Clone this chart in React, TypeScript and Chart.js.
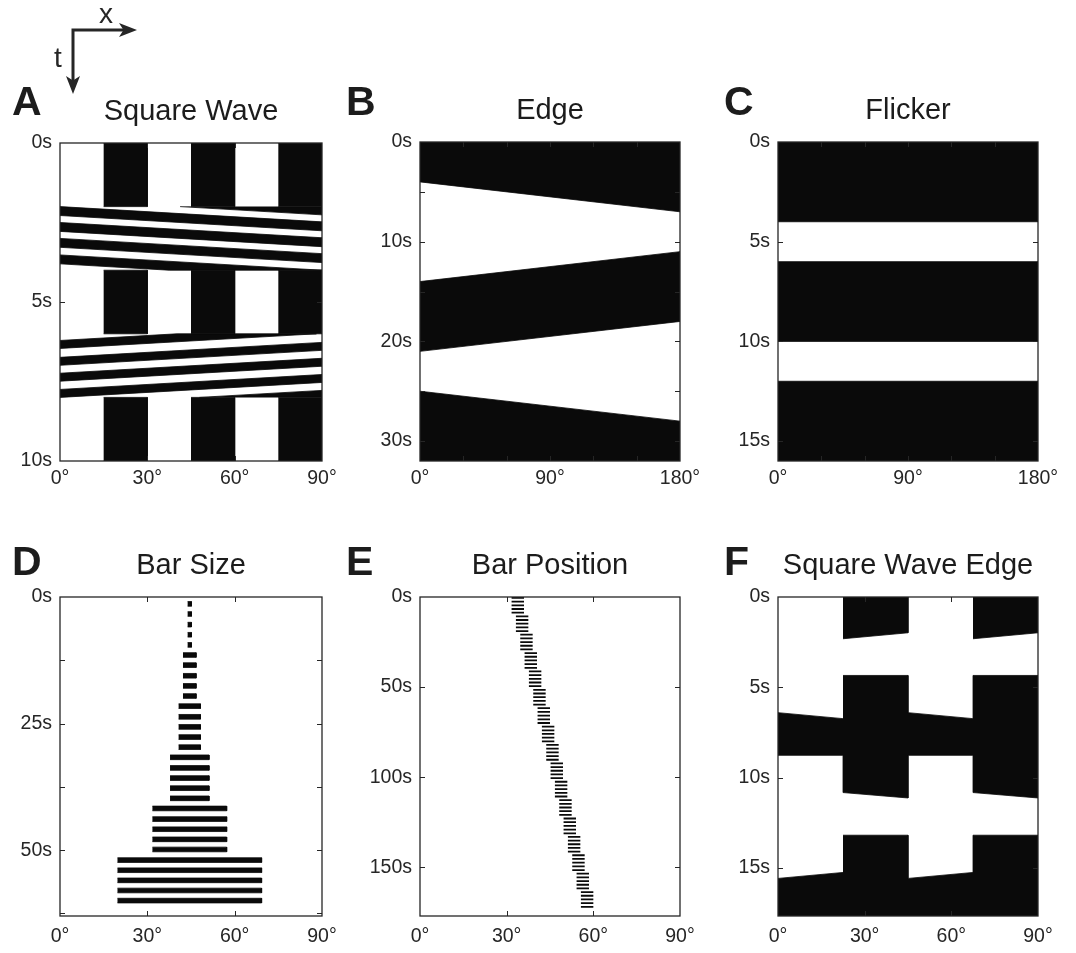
import React, { useEffect, useRef } from 'react';
import { Chart, registerables } from 'chart.js';
Chart.register(...registerables);

const FONT = '"Liberation Sans", Arial, Helvetica, sans-serif';
const INK = '#262626';
const FILL = '#0a0a0a';

// ---------- Panel A : Square Wave (x in deg, t in s) ----------
const A_T_MAX = 10;
const A_BLACK_COLUMNS = [[15, 30], [45, 60], [75, 90]];
const A_STATIC_SPANS = [[0, 2], [4, 6], [8, 10]];
const A_MOVE1_SPAN = [2, 4];
const A_MOVE1_STRIPE_TOPS = [1.5, 2.0, 2.5, 3.0, 3.52];
const A_MOVE1_STRIPE_LEN = 0.28;
const A_MOVE1_DRIFT = 0.48;
const A_MOVE2_SPAN = [6, 8];
const A_MOVE2_STRIPE_TOPS = [6.21, 6.74, 7.24, 7.75, 8.25];
const A_MOVE2_STRIPE_LEN = 0.25;
const A_MOVE2_DRIFT = -0.47;

// ---------- Panel B : Edge ----------
const B_T_MAX = 32;
const B_EDGE_AT_0 = [4, 14, 21, 25];
const B_EDGE_AT_180 = [7, 11, 18, 28];

// ---------- Panel C : Flicker ----------
const C_T_MAX = 16;
const C_DARK_SPANS = [[0, 4], [6, 10], [12, 16]];

// ---------- Panel D : Bar Size ----------
const D_T_MAX = 63;
const D_CENTER = 44.5;
const D_GROUP_WIDTH = [1.3, 4.5, 7.5, 13.4, 25.5, 49.5];
const D_BAR_START = [
  0.9, 2.9, 5.0, 7.0, 9.0,
  11.0, 13.0, 15.1, 17.1, 19.1,
  21.1, 23.2, 25.2, 27.2, 29.2,
  31.2, 33.3, 35.3, 37.3, 39.3,
  41.3, 43.4, 45.4, 47.4, 49.4,
  51.5, 53.5, 55.5, 57.5, 59.5,
];
const D_BAR_LEN = 0.92;

// ---------- Panel E : Bar Position ----------
const E_T_MAX = 177;
const E_GROUP_X = [31.7, 33.2, 34.7, 36.2, 37.7, 39.2, 40.7, 42.2, 43.7, 45.2, 46.7, 48.2, 49.7, 51.2, 52.7, 54.2, 55.7];
const E_GROUP_T = [0, 10.2, 20.4, 30.6, 40.8, 51.0, 61.2, 71.4, 81.6, 91.8, 102.0, 112.2, 122.4, 132.6, 142.8, 153.0, 163.2];
const E_FLASH_OFFSETS = [0, 2.05, 4.1, 6.15, 8.2];
const E_FLASH_LEN = 1.0;
const E_BAR_WIDTH = 4.3;

// ---------- Panel F : Square Wave Edge ----------
const F_T_MAX = 17.65;
const F_SHAPES = [
  [[22.5, 0], [45, 0], [45, 1.98], [22.5, 2.31]],
  [[67.5, 0], [90, 0], [90, 1.98], [67.5, 2.31]],
  [[22.5, 4.34], [45, 4.34], [45, 6.4], [67.5, 6.73], [67.5, 4.34], [90, 4.34], [90, 11.12], [67.5, 10.82],
   [67.5, 8.76], [45, 8.76], [45, 11.12], [22.5, 10.82], [22.5, 8.76], [0, 8.76], [0, 6.4], [22.5, 6.73]],
  [[22.5, 13.18], [45, 13.18], [45, 15.57], [67.5, 15.24], [67.5, 13.18], [90, 13.18], [90, 17.65], [0, 17.65],
   [0, 15.57], [22.5, 15.24]],
];

type Pt = { x: number; y: number };

const rect = (x0: number, x1: number, y0: number, y1: number): Pt[] => [
  { x: x0, y: y0 }, { x: x1, y: y0 }, { x: x1, y: y1 }, { x: x0, y: y1 },
];

function clipBand(poly: Pt[], lo: number, hi: number): Pt[] {
  const cut = (a: Pt, b: Pt, yv: number): Pt => {
    const k = (yv - a.y) / (b.y - a.y);
    return { x: a.x + k * (b.x - a.x), y: yv };
  };
  const clip = (pts: Pt[], inside: (p: Pt) => boolean, yv: number) => {
    const out: Pt[] = [];
    for (let i = 0; i < pts.length; i++) {
      const cur = pts[i];
      const prev = pts[(i + pts.length - 1) % pts.length];
      const ci = inside(cur);
      const pi = inside(prev);
      if (ci) {
        if (!pi) out.push(cut(prev, cur, yv));
        out.push(cur);
      } else if (pi) out.push(cut(prev, cur, yv));
    }
    return out;
  };
  let r = clip(poly, (p) => p.y >= lo, lo);
  if (r.length) r = clip(r, (p) => p.y <= hi, hi);
  return r;
}

function stripes(tops: number[], len: number, drift: number, span: number[]): Pt[][] {
  return tops
    .map((top) =>
      clipBand(
        [{ x: 0, y: top }, { x: 90, y: top + drift }, { x: 90, y: top + drift + len }, { x: 0, y: top + len }],
        span[0], span[1]))
    .filter((p) => p.length >= 3);
}

function polysA(): Pt[][] {
  const out: Pt[][] = [];
  for (const [t0, t1] of A_STATIC_SPANS) for (const [x0, x1] of A_BLACK_COLUMNS) out.push(rect(x0, x1, t0, t1));
  out.push(...stripes(A_MOVE1_STRIPE_TOPS, A_MOVE1_STRIPE_LEN, A_MOVE1_DRIFT, A_MOVE1_SPAN));
  out.push(...stripes(A_MOVE2_STRIPE_TOPS, A_MOVE2_STRIPE_LEN, A_MOVE2_DRIFT, A_MOVE2_SPAN));
  return out;
}
function polysB(): Pt[][] {
  const L = B_EDGE_AT_0, R = B_EDGE_AT_180;
  return [
    [{ x: 0, y: 0 }, { x: 180, y: 0 }, { x: 180, y: R[0] }, { x: 0, y: L[0] }],
    [{ x: 0, y: L[1] }, { x: 180, y: R[1] }, { x: 180, y: R[2] }, { x: 0, y: L[2] }],
    [{ x: 0, y: L[3] }, { x: 180, y: R[3] }, { x: 180, y: B_T_MAX }, { x: 0, y: B_T_MAX }],
  ];
}
function polysC(): Pt[][] {
  return C_DARK_SPANS.map(([t0, t1]) => rect(0, 180, t0, t1));
}
function polysD(): Pt[][] {
  return D_BAR_START.map((s, i) => {
    const w = D_GROUP_WIDTH[Math.floor(i / 5)];
    return rect(D_CENTER - w / 2, D_CENTER + w / 2, s, s + D_BAR_LEN);
  });
}
function polysE(): Pt[][] {
  const out: Pt[][] = [];
  E_GROUP_X.forEach((x0, g) => {
    for (const off of E_FLASH_OFFSETS) {
      const t0 = E_GROUP_T[g] + off;
      out.push(rect(x0, x0 + E_BAR_WIDTH, t0, t0 + E_FLASH_LEN));
    }
  });
  return out;
}
function polysF(): Pt[][] {
  return F_SHAPES.map((s) => s.map(([x, y]) => ({ x, y })));
}

const PAD_L = 70, PAD_T = 70, PAD_R = 35, PAD_B = 45, Y_AXIS_W = 60;

const decoPlugin = {
  id: 'panelDeco',
  afterDatasetsDraw(chart: any, _args: any, opts: any) {
    const { ctx, chartArea: a, scales } = chart;
    const xs = scales.x, ys = scales.y;
    const L = 5;
    ctx.save();
    ctx.strokeStyle = INK;
    ctx.lineWidth = 1;
    ctx.beginPath();
    for (const tk of xs.ticks) {
      if (tk.value <= xs.min || tk.value >= xs.max) continue;
      const px = Math.round(xs.getPixelForValue(tk.value)) + 0.5;
      ctx.moveTo(px, a.bottom); ctx.lineTo(px, a.bottom - L);
      ctx.moveTo(px, a.top); ctx.lineTo(px, a.top + L);
    }
    for (const tk of ys.ticks) {
      if (tk.value <= ys.min || tk.value >= ys.max) continue;
      const py = Math.round(ys.getPixelForValue(tk.value)) + 0.5;
      ctx.moveTo(a.left, py); ctx.lineTo(a.left + L, py);
      ctx.moveTo(a.right, py); ctx.lineTo(a.right - L, py);
    }
    ctx.stroke();
    ctx.lineWidth = 1.3;
    ctx.strokeRect(a.left, a.top, a.right - a.left, a.bottom - a.top);
    ctx.fillStyle = '#1c1c1c';
    ctx.font = `29px ${FONT}`;
    ctx.textAlign = 'center';
    ctx.textBaseline = 'alphabetic';
    ctx.fillText(opts.title, (a.left + a.right) / 2, a.top - 23);
    ctx.restore();
  },
};

type PanelCfg = {
  title: string;
  l: number; t: number; w: number; h: number;
  xMax: number; xStep: number; xLabelEvery: number;
  yMax: number; yStep: number; yLabelEvery: number;
  xPad: number;
  polys: Pt[][];
  stroke: boolean;
};

function Panel({ cfg }: { cfg: PanelCfg }) {
  const ref = useRef<HTMLCanvasElement>(null);
  const W = cfg.w + PAD_L + PAD_R;
  const H = cfg.h + PAD_T + PAD_B;
  useEffect(() => {
    const tickFont = { family: FONT, size: 19.5 };
    const chart = new Chart(ref.current as HTMLCanvasElement, {
      type: 'line',
      data: {
        datasets: cfg.polys.map((p) => ({
          data: p,
          fill: 'shape',
          backgroundColor: FILL,
          borderColor: cfg.stroke ? FILL : 'rgba(0,0,0,0)',
          borderWidth: cfg.stroke ? 0.8 : 0,
          pointRadius: 0,
          pointHoverRadius: 0,
          tension: 0,
        })),
      } as any,
      options: {
        animation: false,
        responsive: false,
        events: [],
        layout: { padding: { left: PAD_L - Y_AXIS_W, top: PAD_T, right: PAD_R, bottom: 0 } },
        plugins: {
          legend: { display: false },
          tooltip: { enabled: false },
          panelDeco: { title: cfg.title },
        } as any,
        scales: {
          x: {
            type: 'linear',
            position: 'bottom',
            min: 0,
            max: cfg.xMax,
            afterFit: (s: any) => { s.height = PAD_B; },
            grid: { display: false, drawTicks: false },
            border: { display: false },
            ticks: {
              stepSize: cfg.xStep,
              includeBounds: false,
              autoSkip: false,
              maxRotation: 0,
              padding: cfg.xPad,
              font: tickFont,
              color: INK,
              callback: (v: any) => (Math.abs(v % cfg.xLabelEvery) < 1e-6 ? `${v}°` : ''),
            },
          },
          y: {
            type: 'linear',
            position: 'left',
            reverse: true,
            min: 0,
            max: cfg.yMax,
            afterFit: (s: any) => { s.width = Y_AXIS_W; },
            grid: { display: false, drawTicks: false },
            border: { display: false },
            ticks: {
              stepSize: cfg.yStep,
              includeBounds: false,
              autoSkip: false,
              padding: 8,
              font: tickFont,
              color: INK,
              callback: (v: any) => (Math.abs(v % cfg.yLabelEvery) < 1e-6 ? `${v}s` : ''),
            },
          },
        } as any,
      },
      plugins: [decoPlugin as any],
    });
    return () => chart.destroy();
  }, []);
  return (
    <canvas
      ref={ref}
      width={W}
      height={H}
      style={{ position: 'absolute', left: cfg.l - PAD_L, top: cfg.t - PAD_T, width: W, height: H }}
    />
  );
}

const PANELS: PanelCfg[] = [
  { title: 'Square Wave', l: 60, t: 143, w: 262, h: 318, xMax: 90, xStep: 30, xLabelEvery: 30,
    yMax: A_T_MAX, yStep: 5, yLabelEvery: 5, xPad: 6, polys: polysA(), stroke: true },
  { title: 'Edge', l: 420, t: 142, w: 260, h: 319, xMax: 180, xStep: 30, xLabelEvery: 90,
    yMax: B_T_MAX, yStep: 5, yLabelEvery: 10, xPad: 6, polys: polysB(), stroke: true },
  { title: 'Flicker', l: 778, t: 142, w: 260, h: 319, xMax: 180, xStep: 30, xLabelEvery: 90,
    yMax: C_T_MAX, yStep: 5, yLabelEvery: 5, xPad: 6, polys: polysC(), stroke: true },
  { title: 'Bar Size', l: 60, t: 597, w: 262, h: 319, xMax: 90, xStep: 30, xLabelEvery: 30,
    yMax: D_T_MAX, yStep: 12.5, yLabelEvery: 25, xPad: 9, polys: polysD(), stroke: true },
  { title: 'Bar Position', l: 420, t: 597, w: 260, h: 319, xMax: 90, xStep: 30, xLabelEvery: 30,
    yMax: E_T_MAX, yStep: 50, yLabelEvery: 50, xPad: 9, polys: polysE(), stroke: false },
  { title: 'Square Wave Edge', l: 778, t: 597, w: 260, h: 319, xMax: 90, xStep: 30, xLabelEvery: 30,
    yMax: F_T_MAX, yStep: 5, yLabelEvery: 5, xPad: 9, polys: polysF(), stroke: true },
];

const LETTERS = [
  { s: 'A', x: 12, y: 115 }, { s: 'B', x: 346, y: 115 }, { s: 'C', x: 724, y: 115 },
  { s: 'D', x: 12, y: 575 }, { s: 'E', x: 346, y: 575 }, { s: 'F', x: 724, y: 575 },
];

export default function App() {
  return (
    <div style={{ position: 'absolute', left: 0, top: 0, width: 1076, height: 953, background: '#fff', overflow: 'hidden' }}>
      {PANELS.map((p) => (
        <Panel key={p.title} cfg={p} />
      ))}
      <svg width={1076} height={953} style={{ position: 'absolute', left: 0, top: 0, pointerEvents: 'none' }}>
        <g fill="#1c1c1c" fontFamily={FONT} fontWeight="bold" fontSize={41}>
          {LETTERS.map((l) => (
            <text key={l.s} x={l.x} y={l.y}>{l.s}</text>
          ))}
        </g>
        <polyline points="124,30 73,30 73,82" fill="none" stroke={INK} strokeWidth={3} />
        <polygon points="137,30 119,23 123.5,30 119,37" fill={INK} />
        <polygon points="73,94 66,76 73,80.5 80,76" fill={INK} />
        <g fill={INK} fontFamily={FONT} fontSize={28}>
          <text x={99} y={23}>x</text>
          <text x={54} y={67}>t</text>
        </g>
      </svg>
    </div>
  );
}
